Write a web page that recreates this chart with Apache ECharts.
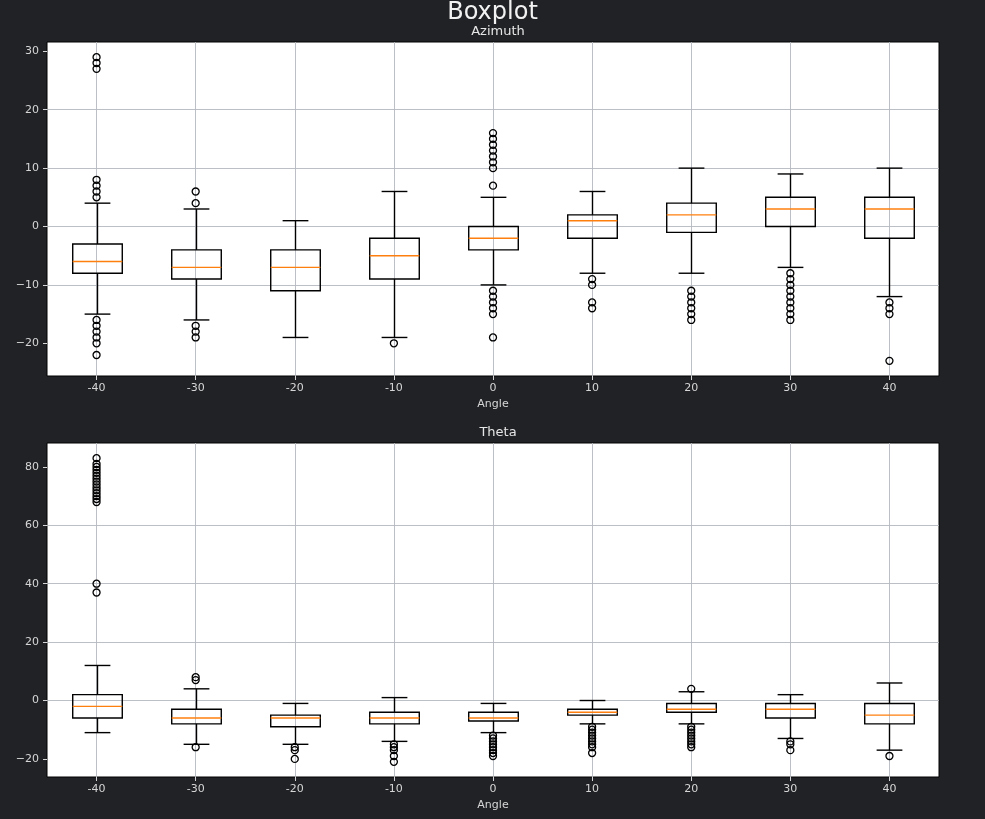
<!DOCTYPE html>
<html><head><meta charset="utf-8">
<script src="https://cdn.jsdelivr.net/npm/echarts@6/dist/echarts.min.js"></script>
<style>html,body{margin:0;padding:0;background:#212226;}#c{width:985px;height:819px;}</style>
</head><body><div id="c"></div><script>
const angles = ['-40','-30','-20','-10','0','10','20','30','40'];
// each box: [lower whisker, Q1, median, Q3, upper whisker]
const azimuthBoxes = [
  [-15, -8, -6, -3, 4],
  [-16, -9, -7, -4, 3],
  [-19, -11, -7, -4, 1],
  [-19, -9, -5, -2, 6],
  [-10, -4, -2, 0, 5],
  [-8, -2, 1, 2, 6],
  [-8, -1, 2, 4, 10],
  [-7, 0, 3, 5, 9],
  [-12, -2, 3, 5, 10]
];
const azimuthOutliers = [
  [27, 28, 29, 5, 6, 7, 8, -16, -17, -18, -19, -20, -22],
  [4, 6, -17, -18, -19],
  [],
  [-20],
  [7, 10, 11, 12, 13, 14, 15, 16, -11, -12, -13, -14, -15, -19],
  [-9, -10, -13, -14],
  [-11, -12, -13, -14, -15, -16],
  [-8, -9, -10, -11, -12, -13, -14, -15, -16],
  [-13, -14, -15, -23]
];
const thetaBoxes = [
  [-11, -6, -2, 2, 12],
  [-15, -8, -6, -3, 4],
  [-15, -9, -6, -5, -1],
  [-14, -8, -6, -4, 1],
  [-11, -7, -6, -4, -1],
  [-8, -5, -4, -3, 0],
  [-8, -4, -3, -1, 3],
  [-13, -6, -3, -1, 2],
  [-17, -8, -5, -1, 6]
];
const thetaOutliers = [
  [37, 40, 68, 69, 70, 71, 72, 73, 74, 75, 76, 77, 78, 79, 80, 81, 83],
  [7, 8, -16],
  [-16, -17, -20],
  [-15, -16, -17, -19, -21],
  [-12, -13, -14, -15, -16, -17, -18, -19],
  [-9, -10, -11, -12, -13, -14, -15, -16, -18],
  [4, -9, -10, -11, -12, -13, -14, -15, -16],
  [-14, -15, -17],
  [-19]
];
const azimuthRange = [-25.6, 31.6];
const thetaRange = [-26.2, 88.2];
const azimuthTicks = [-20, -10, 0, 10, 20, 30];
const thetaTicks = [-20, 0, 20, 40, 60, 80];

const txt = '#d6d6d6';
const gridCol = '#b4b8c0';
const font = 'DejaVu Sans';

function boxRender(params, api) {
  const x = api.value(0);
  const lo = api.coord([x, api.value(1)]);
  const q1 = api.coord([x, api.value(2)]);
  const med = api.coord([x, api.value(3)]);
  const q3 = api.coord([x, api.value(4)]);
  const hi = api.coord([x, api.value(5)]);
  const band = api.size([1, 0])[0];
  const bw = band * 0.5, cw = band * 0.26;
  const cx = Math.round(lo[0]) + 0.5;
  const s = {stroke: '#000', lineWidth: 1.4, fill: null};
  return {type: 'group', children: [
    {type: 'line', shape: {x1: cx, y1: q3[1], x2: cx, y2: hi[1]}, style: s},
    {type: 'line', shape: {x1: cx, y1: q1[1], x2: cx, y2: lo[1]}, style: s},
    {type: 'line', shape: {x1: cx - cw / 2, y1: hi[1], x2: cx + cw / 2, y2: hi[1]}, style: s},
    {type: 'line', shape: {x1: cx - cw / 2, y1: lo[1], x2: cx + cw / 2, y2: lo[1]}, style: s},
    {type: 'rect', shape: {x: cx - bw / 2, y: q3[1], width: bw, height: q1[1] - q3[1]}, style: {stroke: '#000', lineWidth: 1.4, fill: null}},
    {type: 'line', shape: {x1: cx - bw / 2, y1: med[1], x2: cx + bw / 2, y2: med[1]}, style: {stroke: '#ff7f0e', lineWidth: 1.4}}
  ]};
}

function boxData(boxes) { return boxes.map((b, i) => [i].concat(b)); }
function outData(outs) {
  const r = [];
  outs.forEach((arr, i) => arr.forEach(v => r.push([i, v])));
  return r;
}

function xAxisCfg(gi) {
  return {
    type: 'category', gridIndex: gi, data: angles, boundaryGap: true,
    name: 'Angle', nameLocation: 'middle', nameGap: 23,
    nameTextStyle: {color: txt, fontFamily: font, fontSize: 11},
    axisLine: {show: false, onZero: false},
    axisTick: {show: true, alignWithLabel: true, length: 4, lineStyle: {color: txt}},
    axisLabel: {color: txt, fontFamily: font, fontSize: 11, margin: 7},
    splitLine: {show: true, alignWithLabel: true, lineStyle: {color: gridCol, width: 0.9}}
  };
}
function yAxisCfg(gi, range, ticks) {
  return {
    type: 'value', gridIndex: gi, min: range[0], max: range[1],
    axisLine: {show: false},
    axisTick: {show: true, length: 4, customValues: ticks, lineStyle: {color: txt}},
    axisLabel: {color: txt, fontFamily: font, fontSize: 11, margin: 8, customValues: ticks,
      formatter: v => String(v).replace('-', '\u2212')},
    splitLine: {show: true, showMinLine: false, showMaxLine: false, lineStyle: {color: gridCol, width: 0.9}}
  };
}
function scatterCfg(idx, outs) {
  return {
    type: 'scatter', xAxisIndex: idx, yAxisIndex: idx, data: outData(outs),
    symbol: 'circle', symbolSize: 7, z: 5, silent: true,
    itemStyle: {color: 'rgba(0,0,0,0)', borderColor: '#000', borderWidth: 1.3, opacity: 1}
  };
}

const chart = echarts.init(document.getElementById('c'), null, {renderer: 'canvas'});
chart.setOption({
  backgroundColor: '#212226',
  animation: false,
  title: [
    {text: 'Boxplot', left: 'center', top: -4, textStyle: {color: '#f2f2f2', fontFamily: font, fontSize: 24, fontWeight: 'normal'}},
    {text: 'Azimuth', left: 493, textAlign: 'center', top: 20, textStyle: {color: '#e6e6e6', fontFamily: font, fontSize: 13, fontWeight: 'normal'}},
    {text: 'Theta', left: 493, textAlign: 'center', top: 421, textStyle: {color: '#e6e6e6', fontFamily: font, fontSize: 13, fontWeight: 'normal'}}
  ],
  grid: [
    {left: 47, top: 42, width: 892, height: 334, show: true, backgroundColor: '#ffffff', borderColor: '#000', borderWidth: 1},
    {left: 47, top: 443, width: 892, height: 334, show: true, backgroundColor: '#ffffff', borderColor: '#000', borderWidth: 1}
  ],
  xAxis: [xAxisCfg(0), xAxisCfg(1)],
  yAxis: [yAxisCfg(0, azimuthRange, azimuthTicks), yAxisCfg(1, thetaRange, thetaTicks)],
  series: [
    {type: 'custom', xAxisIndex: 0, yAxisIndex: 0, renderItem: boxRender, data: boxData(azimuthBoxes), z: 3, silent: true,
      encode: {x: 0, y: [1, 2, 3, 4, 5]}},
    scatterCfg(0, azimuthOutliers),
    {type: 'custom', xAxisIndex: 1, yAxisIndex: 1, renderItem: boxRender, data: boxData(thetaBoxes), z: 3, silent: true,
      encode: {x: 0, y: [1, 2, 3, 4, 5]}},
    scatterCfg(1, thetaOutliers)
  ]
});
</script></body></html>
